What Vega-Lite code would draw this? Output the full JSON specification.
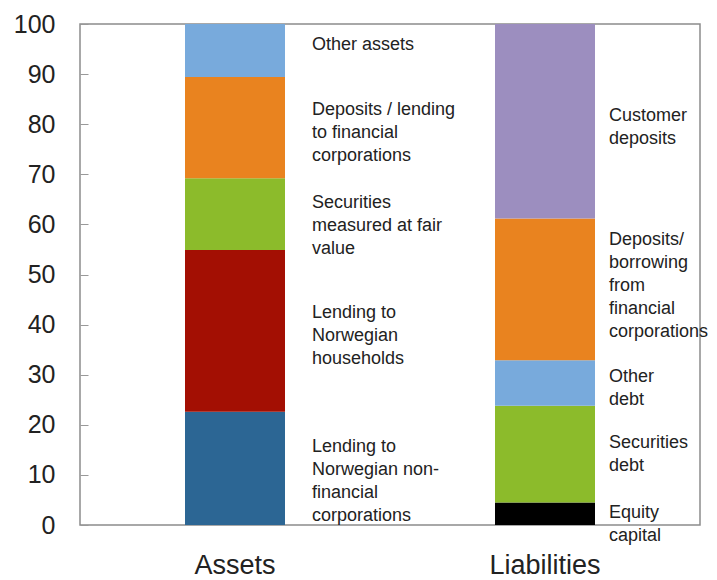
{
  "$schema": "https://vega.github.io/schema/vega-lite/v6.json",
  "width": 620,
  "height": 501,
  "autosize": {"type": "none"},
  "padding": {"left": 80, "top": 24, "right": 17, "bottom": 55},
  "background": "white",
  "config": {
    "view": {"stroke": "#8c8c8c", "strokeWidth": 1.5},
    "font": "Liberation Sans"
  },
  "datasets": {
    "bars": [
      {"side": "Assets", "segment": "Lending to Norwegian non-financial corporations", "order": 1, "value": 22.6},
      {"side": "Assets", "segment": "Lending to Norwegian households", "order": 2, "value": 32.3},
      {"side": "Assets", "segment": "Securities measured at fair value", "order": 3, "value": 14.3},
      {"side": "Assets", "segment": "Deposits / lending to financial corporations", "order": 4, "value": 20.2},
      {"side": "Assets", "segment": "Other assets", "order": 5, "value": 10.6},
      {"side": "Liabilities", "segment": "Equity capital", "order": 1, "value": 4.5},
      {"side": "Liabilities", "segment": "Securities debt", "order": 2, "value": 19.3},
      {"side": "Liabilities", "segment": "Other debt", "order": 3, "value": 9.1},
      {"side": "Liabilities", "segment": "Deposits/ borrowing from financial corporations", "order": 4, "value": 28.3},
      {"side": "Liabilities", "segment": "Customer deposits", "order": 5, "value": 38.8}
    ],
    "labels": [
      {"side": "Assets", "label": "Other assets", "pos": 95.8},
      {"side": "Assets", "label": "Deposits / lending\nto financial\ncorporations", "pos": 82.8},
      {"side": "Assets", "label": "Securities\nmeasured at fair\nvalue", "pos": 64.3},
      {"side": "Assets", "label": "Lending to\nNorwegian\nhouseholds", "pos": 42.3},
      {"side": "Assets", "label": "Lending to\nNorwegian non-\nfinancial\ncorporations", "pos": 15.6},
      {"side": "Liabilities", "label": "Customer\ndeposits", "pos": 81.6},
      {"side": "Liabilities", "label": "Deposits/\nborrowing\nfrom\nfinancial\ncorporations", "pos": 56.9},
      {"side": "Liabilities", "label": "Other\ndebt", "pos": 29.5},
      {"side": "Liabilities", "label": "Securities\ndebt", "pos": 16.4},
      {"side": "Liabilities", "label": "Equity\ncapital", "pos": 2.4}
    ]
  },
  "encoding": {
    "x": {
      "field": "side",
      "type": "nominal",
      "scale": {"type": "band", "domain": ["Assets", "Liabilities"], "paddingInner": 0, "paddingOuter": 0},
      "axis": {
        "title": null,
        "domain": false,
        "ticks": false,
        "labelAngle": 0,
        "labelFontSize": 27,
        "labelColor": "#222",
        "labelPadding": 27
      }
    }
  },
  "layer": [
    {
      "data": {"name": "bars"},
      "mark": {"type": "bar", "size": 100},
      "encoding": {
        "y": {
          "field": "value",
          "type": "quantitative",
          "stack": "zero",
          "scale": {"domain": [0, 100], "nice": false},
          "axis": {
            "title": null,
            "values": [0, 10, 20, 30, 40, 50, 60, 70, 80, 90, 100],
            "grid": false,
            "domain": false,
            "tickSize": -8,
            "tickColor": "#999",
            "labelFontSize": 25,
            "labelColor": "#222",
            "labelPadding": 33
          }
        },
        "order": {"field": "order", "type": "quantitative"},
        "color": {
          "field": "segment",
          "type": "nominal",
          "legend": null,
          "scale": {
            "domain": [
              "Lending to Norwegian non-financial corporations",
              "Lending to Norwegian households",
              "Securities measured at fair value",
              "Deposits / lending to financial corporations",
              "Other assets",
              "Equity capital",
              "Securities debt",
              "Other debt",
              "Deposits/ borrowing from financial corporations",
              "Customer deposits"
            ],
            "range": [
              "#2c6694",
              "#a30f03",
              "#8cbb2b",
              "#e9831f",
              "#78aadc",
              "#000000",
              "#8cbb2b",
              "#78aadc",
              "#e9831f",
              "#9c8ebf"
            ]
          }
        }
      }
    },
    {
      "data": {"name": "labels"},
      "transform": [{"filter": "datum.side === 'Assets'"}],
      "mark": {"type": "text", "align": "left", "baseline": "middle", "dx": 77, "fontSize": 18, "lineHeight": 23, "lineBreak": "\n", "color": "#222"},
      "encoding": {
        "y": {"field": "pos", "type": "quantitative"},
        "text": {"field": "label"}
      }
    },
    {
      "data": {"name": "labels"},
      "transform": [{"filter": "datum.side === 'Liabilities'"}],
      "mark": {"type": "text", "align": "left", "baseline": "middle", "dx": 64, "fontSize": 18, "lineHeight": 23, "lineBreak": "\n", "color": "#222"},
      "encoding": {
        "y": {"field": "pos", "type": "quantitative"},
        "text": {"field": "label"}
      }
    }
  ]
}
